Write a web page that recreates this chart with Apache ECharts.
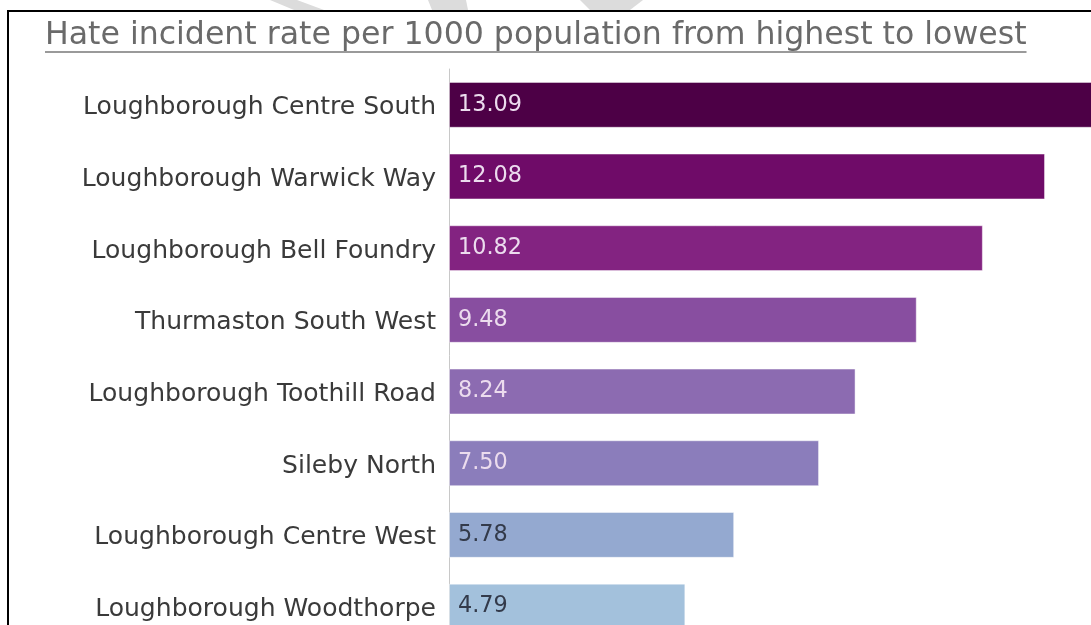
<!DOCTYPE html>
<html>
<head>
<meta charset="utf-8">
<script src="https://cdn.jsdelivr.net/npm/echarts@6/dist/echarts.min.js"></script>
<style>
  html, body { margin: 0; padding: 0; background: #ffffff; overflow: hidden; }
  #chart { width: 1160px; height: 660px; }
</style>
</head>
<body>
<div id="chart"></div>
<script>
// Wards, ordered from highest to lowest rate
const wards = [
  'Loughborough Centre South',
  'Loughborough Warwick Way',
  'Loughborough Bell Foundry',
  'Thurmaston South West',
  'Loughborough Toothill Road',
  'Sileby North',
  'Loughborough Centre West',
  'Loughborough Woodthorpe'
];
// Hate incidents per 1000 population
const rates = [13.09, 12.08, 10.82, 9.48, 8.24, 7.50, 5.78, 4.79];
// Fill for each bar (sequential purple-to-blue palette)
const barColors = ['#4d0046', '#6f0b68', '#832381', '#884ea0', '#8c6bb1', '#8b7dbb', '#94a9d0', '#a3c1dc'];
const labelColors = ['#ecdcee', '#ecdcee', '#ecdcee', '#ecdcee', '#ecdcee', '#ecdcee', '#333a4a', '#333a4a'];

const titleText = 'Hate incident rate per 1000 population from highest to lowest';
const FONT = '"DejaVu Sans", "Open Sans", sans-serif';

// pick font sizes so the text runs to the intended widths
const ctx = document.createElement('canvas').getContext('2d');
function fitSize(text, width) {
  ctx.font = '100px ' + FONT;
  return 100 * width / ctx.measureText(text).width;
}
const titleSize = fitSize(titleText, 982);
const catSize = fitSize(wards[0], 353);
const valSize = fitSize('13.09', 64);
ctx.font = titleSize + 'px ' + FONT;
const titleW = ctx.measureText(titleText).width;

const chart = echarts.init(document.getElementById('chart'), null, { renderer: 'canvas' });

const option = {
  backgroundColor: '#ffffff',
  animation: false,
  grid: { left: 449, top: 69, width: 49.34 * 14, height: 573.4, containLabel: false },
  xAxis: {
    type: 'value', min: 0, max: 14,
    show: false
  },
  yAxis: {
    type: 'category',
    data: wards,
    inverse: true,
    axisLine: { show: true, lineStyle: { color: '#c8c8c8', width: 1 } },
    axisTick: { show: false },
    axisLabel: {
      margin: 13,
      formatter: v => '{w|' + v + '}',
      rich: {
        w: { color: '#3a3a3a', fontSize: catSize, fontFamily: FONT, padding: [6, 0, 0, 0] }
      }
    }
  },
  series: [{
    type: 'bar',
    barCategoryGap: '36%',
    data: rates.map((v, i) => ({
      value: v,
      itemStyle: { color: barColors[i] },
      label: { color: labelColors[i] }
    })),
    itemStyle: { borderColor: 'rgba(255,255,255,0.45)', borderWidth: 1 },
    label: {
      show: true,
      position: 'insideLeft',
      distance: 9,
      fontSize: valSize,
      fontFamily: FONT,
      formatter: p => p.value.toFixed(2)
    }
  }],
  graphic: [
    // faint chevron marks along the top edge
    { type: 'polygon', silent: true, z: 1, shape: { points: [[270, 0], [297, 0], [324, 10], [294, 10]] }, style: { fill: '#dcdcdc' } },
    { type: 'polygon', silent: true, z: 1, shape: { points: [[428, 0], [466, 0], [468, 10], [432, 10]] }, style: { fill: '#dcdcdc' } },
    { type: 'polygon', silent: true, z: 1, shape: { points: [[580, 0], [643, 0], [630, 10], [590, 10]] }, style: { fill: '#dcdcdc' } },
    // frame
    { type: 'line', silent: true, z: 5, shape: { x1: 8, y1: 11, x2: 1160, y2: 11 }, style: { stroke: '#000000', lineWidth: 2 } },
    { type: 'line', silent: true, z: 5, shape: { x1: 8, y1: 10, x2: 8, y2: 660 }, style: { stroke: '#000000', lineWidth: 2 } },
    // title and its underline
    { type: 'text', z: 5, left: 45, top: 20, style: { text: titleText, font: titleSize + 'px ' + FONT, fill: '#6a6a6a' } },
    { type: 'line', silent: true, z: 5, shape: { x1: 45, y1: 52, x2: 45 + titleW, y2: 52 }, style: { stroke: '#9a9a9a', lineWidth: 2 } }
  ]
};

chart.setOption(option);
</script>
</body>
</html>
